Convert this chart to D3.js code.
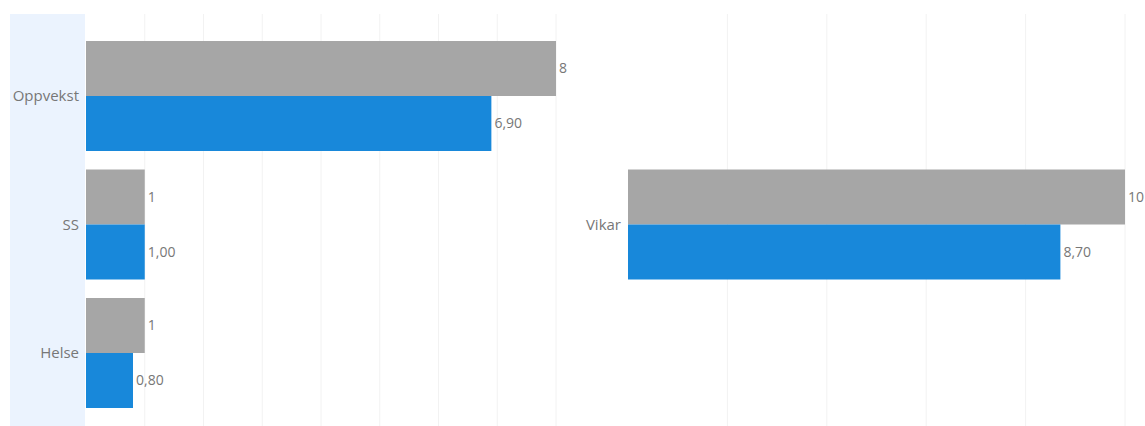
<!DOCTYPE html>
<html>
<head>
<meta charset="utf-8">
<script src="https://cdn.jsdelivr.net/npm/d3@7"></script>
<style>
  body { margin: 0; background: #fff; }
  text { font-family: "Open Sans", sans-serif; }
</style>
</head>
<body>
<div id="chart"></div>
<script>
// data
const leftCategories = ["Oppvekst", "SS", "Helse"];
const leftTarget = [8, 1, 1];          // grey
const leftActual = [6.9, 1.0, 0.8];    // blue
const leftTargetLabels = ["8", "1", "1"];
const leftActualLabels = ["6,90", "1,00", "0,80"];
const leftTicks = [1, 2, 3, 4, 5, 6, 7, 8];

const rightCategories = ["Vikar"];
const rightTarget = [10];
const rightActual = [8.7];
const rightTargetLabels = ["10"];
const rightActualLabels = ["8,70"];
const rightTicks = [2, 4, 6, 8, 10];

const W = 1145, H = 426;
const grey = "#a6a6a6", blue = "#1888da", textCol = "#777";

const svg = d3.select("#chart").append("svg")
    .attr("width", W)
    .attr("height", H);

// category label band
svg.append("rect")
    .attr("x", 10).attr("y", 14)
    .attr("width", 75).attr("height", H - 14)
    .attr("fill", "#ebf3fe");

const yLeft = d3.scaleBand()
    .domain(leftCategories)
    .range([31.75, 417.25])
    .paddingInner(0.144)
    .paddingOuter(0.072);

const step = yLeft.step();
const yRight = d3.scaleBand()
    .domain(rightCategories)
    .range([yLeft("SS") - step * 0.072, yLeft("SS") - step * 0.072 + step])
    .paddingInner(0.144)
    .paddingOuter(0.072);

const xLeft = d3.scaleLinear().domain([0, 8]).range([86, 556]);
const xRight = d3.scaleLinear().domain([0, 10]).range([628, 1125]);

function panel(x, y, ticks, cats, target, actual, tLab, aLab) {
    const g = svg.append("g");
    g.selectAll("line.grid")
        .data(ticks)
        .enter().append("line")
        .attr("class", "grid")
        .attr("x1", d => x(d)).attr("x2", d => x(d))
        .attr("y1", 14).attr("y2", H)
        .attr("stroke", "#f2f2f2")
        .attr("stroke-width", 1);

    const rows = cats.map((c, i) => ({ c, t: target[i], a: actual[i], tl: tLab[i], al: aLab[i] }));
    const half = y.bandwidth() / 2;

    const row = g.selectAll("g.row")
        .data(rows)
        .enter().append("g")
        .attr("class", "row");

    row.append("rect")
        .attr("x", x(0))
        .attr("y", d => y(d.c))
        .attr("width", d => x(d.t) - x(0))
        .attr("height", half)
        .attr("fill", grey);

    row.append("rect")
        .attr("x", x(0))
        .attr("y", d => y(d.c) + half)
        .attr("width", d => x(d.a) - x(0))
        .attr("height", half)
        .attr("fill", blue);

    row.append("text")
        .attr("x", d => x(d.t) + 3)
        .attr("y", d => y(d.c) + half / 2)
        .attr("dy", "0.35em")
        .attr("font-size", 14)
        .attr("fill", textCol)
        .text(d => d.tl);

    row.append("text")
        .attr("x", d => x(d.a) + 3)
        .attr("y", d => y(d.c) + half * 1.5)
        .attr("dy", "0.35em")
        .attr("font-size", 14)
        .attr("fill", textCol)
        .text(d => d.al);

    row.append("text")
        .attr("x", x(0) - 7)
        .attr("y", d => y(d.c) + half)
        .attr("dy", "0.35em")
        .attr("text-anchor", "end")
        .attr("font-size", 15)
        .attr("fill", textCol)
        .text(d => d.c);
}

panel(xLeft, yLeft, leftTicks, leftCategories, leftTarget, leftActual, leftTargetLabels, leftActualLabels);
panel(xRight, yRight, rightTicks, rightCategories, rightTarget, rightActual, rightTargetLabels, rightActualLabels);
</script>
</body>
</html>
